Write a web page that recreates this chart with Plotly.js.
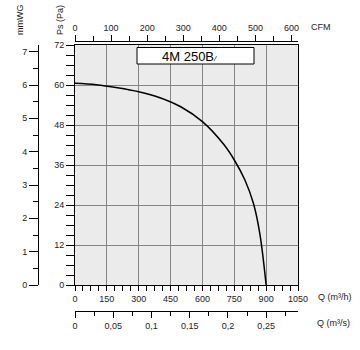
<!DOCTYPE html>
<html>
<head>
<meta charset="utf-8">
<script src="https://cdn.plot.ly/plotly-3.0.1.min.js"></script>
<style>html,body{margin:0;padding:0;background:#fff}#chart{width:360px;height:350px}</style>
</head>
<body>
<div id="chart"></div>
<script>
// Fan curve data
const flowM3h = [0, 100, 200, 300, 400, 500, 600, 700, 750, 800, 840, 870, 900];
const pressurePa = [60.5, 60.1, 59.2, 58.0, 56.2, 53.4, 49.0, 42.2, 37.5, 31.5, 24.5, 15.5, 0];

// Axis ticks
const qTicks = [0, 150, 300, 450, 600, 750, 900, 1050];
const qTickText = ['0', '150', '300', '450', '600', '750', '900', '1050'];
const paTicks = [0, 12, 24, 36, 48, 60, 72];
const mmTicks = [0, 1, 2, 3, 4, 5, 6, 7];
const cfmTicks = [0, 100, 200, 300, 400, 500, 600];
const m3sTicks = [0, 0.05, 0.1, 0.15, 0.2, 0.25];
const m3sTickText = ['0', '0,05', '0,1', '0,15', '0,2', '0,25'];
const modelName = '4M 250B';

const W = 360, H = 350;
const px = v => v / W;
const py = v => (H - v) / H;
const QMAX = 1050;
const tickFont = {family: 'Liberation Sans, Arial, sans-serif', size: 9, color: '#222'};

const traces = [
  {x: flowM3h, y: pressurePa, xaxis: 'x', yaxis: 'y', type: 'scatter', mode: 'lines',
   line: {color: '#000', width: 1.5, shape: 'spline', smoothing: 1}, hoverinfo: 'skip', showlegend: false},
  {x: [], y: [], xaxis: 'x2', yaxis: 'y', type: 'scatter', mode: 'lines', showlegend: false},
  {x: [], y: [], xaxis: 'x3', yaxis: 'y', type: 'scatter', mode: 'lines', showlegend: false},
  {x: [], y: [], xaxis: 'x', yaxis: 'y2', type: 'scatter', mode: 'lines', showlegend: false}
];

const layout = {
  width: W, height: H, autosize: false,
  margin: {l: 0, r: 0, t: 0, b: 0, pad: 0},
  paper_bgcolor: '#fff', plot_bgcolor: '#ebebeb',
  showlegend: false,
  font: tickFont,
  xaxis: {
    domain: [px(75), px(298)], anchor: 'y', range: [0, QMAX],
    tickvals: qTicks, ticktext: qTickText, tickfont: tickFont,
    ticks: 'outside', ticklen: 5, tickcolor: '#000', tickwidth: 1,
    minor: {dtick: 37.5, tick0: 0, ticks: 'outside', ticklen: 5, tickcolor: '#000', showgrid: false},
    showgrid: true, gridcolor: '#848484', gridwidth: 1,
    showline: true, linecolor: '#000', linewidth: 1, mirror: true, zeroline: false, fixedrange: true
  },
  xaxis2: {
    overlaying: 'x', anchor: 'free', position: py(41), side: 'top', range: [0, QMAX / 1.69901],
    tickvals: cfmTicks, tickfont: tickFont,
    ticks: 'outside', ticklen: 6, tickcolor: '#000', tickwidth: 1,
    minor: {dtick: 50, tick0: 0, ticks: 'outside', ticklen: 5, tickcolor: '#000', showgrid: false},
    showgrid: false, showline: true, linecolor: '#000', linewidth: 1, zeroline: false, fixedrange: true
  },
  xaxis3: {
    overlaying: 'x', anchor: 'free', position: py(311), side: 'bottom', range: [0, QMAX / 3600],
    tickvals: m3sTicks, ticktext: m3sTickText, tickfont: tickFont,
    ticks: 'outside', ticklen: 6, tickcolor: '#000', tickwidth: 1,
    minor: {dtick: 0.025, tick0: 0, ticks: 'outside', ticklen: 4, tickcolor: '#000', showgrid: false},
    showgrid: false, showline: true, linecolor: '#000', linewidth: 1, zeroline: false, fixedrange: true
  },
  yaxis: {
    domain: [py(285), py(45)], anchor: 'x', range: [0, 72],
    tickvals: paTicks, tickfont: tickFont,
    ticks: 'outside', ticklen: 8, tickcolor: '#000', tickwidth: 1,
    minor: {dtick: 3, tick0: 0, ticks: 'outside', ticklen: 8, tickcolor: '#000', showgrid: false},
    showgrid: true, gridcolor: '#848484', gridwidth: 1,
    showline: true, linecolor: '#000', linewidth: 1, mirror: true, zeroline: false, fixedrange: true
  },
  yaxis2: {
    overlaying: 'y', anchor: 'free', position: px(38), side: 'left', range: [0, 7.2],
    tickvals: mmTicks, tickfont: tickFont,
    ticks: 'outside', ticklen: 9, tickcolor: '#000', tickwidth: 1,
    minor: {dtick: 0.5, tick0: 0, ticks: 'outside', ticklen: 5, tickcolor: '#000', showgrid: false},
    showgrid: false, showline: true, linecolor: '#000', linewidth: 1, zeroline: false, fixedrange: true
  },
  shapes: [
    {type: 'rect', xref: 'paper', yref: 'paper', x0: px(137), x1: px(254), y0: py(64), y1: py(47.5),
     fillcolor: '#fff', line: {color: '#000', width: 1}, layer: 'above'}
  ],
  annotations: [
    {xref: 'paper', yref: 'paper', x: px(160), y: py(56), xanchor: 'left', yanchor: 'middle', showarrow: false,
     text: modelName + '<span style="font-size:8px"><i>/</i></span>',
     font: {family: 'Liberation Sans, Arial, sans-serif', size: 13, color: '#000'}},
    {xref: 'paper', yref: 'paper', x: px(20), y: py(20), xanchor: 'center', yanchor: 'middle', showarrow: false,
     text: 'mmWG', textangle: -90, font: tickFont},
    {xref: 'paper', yref: 'paper', x: px(60), y: py(20), xanchor: 'center', yanchor: 'middle', showarrow: false,
     text: 'Ps (Pa)', textangle: -90, font: tickFont},
    {xref: 'paper', yref: 'paper', x: px(309), y: py(27), xanchor: 'left', yanchor: 'middle', showarrow: false,
     text: 'CFM', font: tickFont},
    {xref: 'paper', yref: 'paper', x: px(316), y: py(297), xanchor: 'left', yanchor: 'middle', showarrow: false,
     text: 'Q (m³/h)', font: tickFont},
    {xref: 'paper', yref: 'paper', x: px(315), y: py(323), xanchor: 'left', yanchor: 'middle', showarrow: false,
     text: 'Q (m³/s)', font: tickFont}
  ]
};

Plotly.newPlot('chart', traces, layout, {displayModeBar: false, staticPlot: true});
</script>
</body>
</html>
